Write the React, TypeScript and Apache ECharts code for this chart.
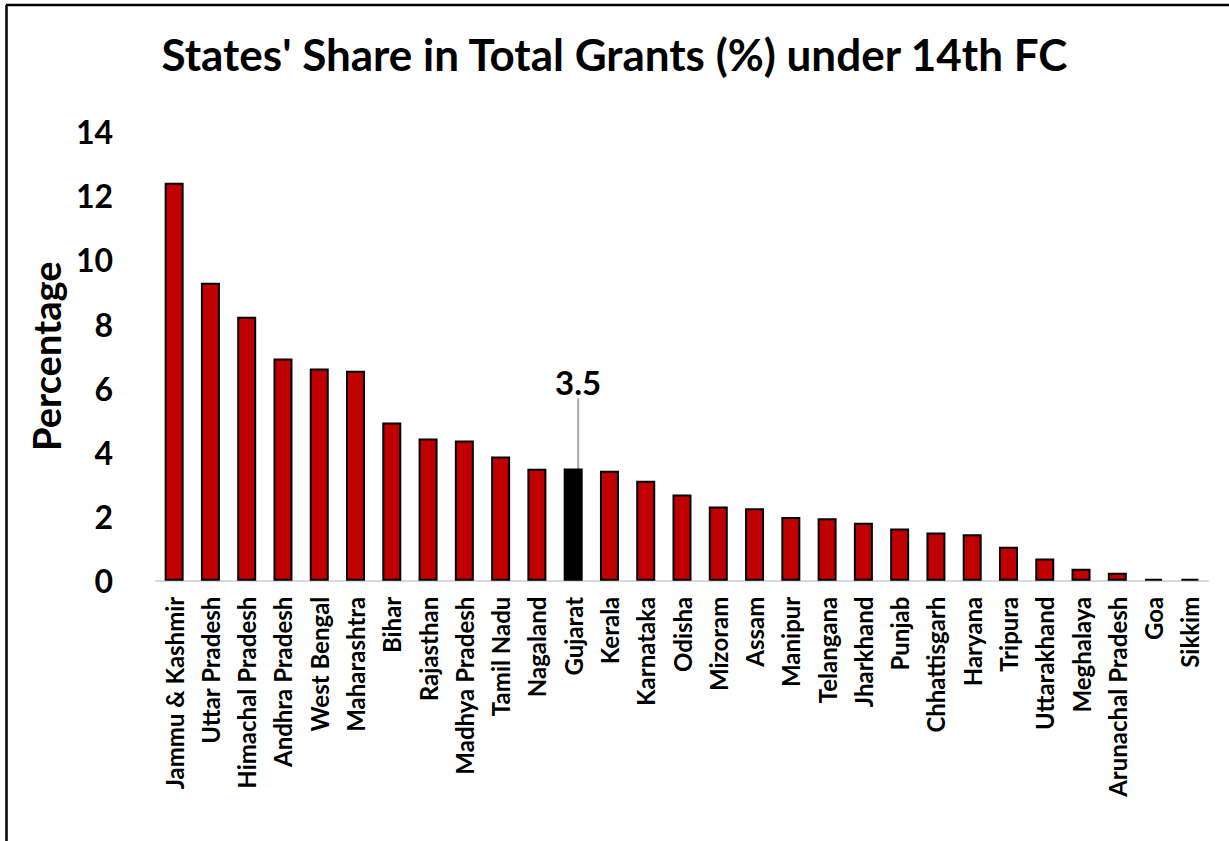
import React, { useEffect, useRef } from "react";
import * as echarts from "echarts";

const categories = [
  "Jammu & Kashmir", "Uttar Pradesh", "Himachal Pradesh", "Andhra Pradesh", "West Bengal",
  "Maharashtra", "Bihar", "Rajasthan", "Madhya Pradesh", "Tamil Nadu", "Nagaland", "Gujarat",
  "Kerala", "Karnataka", "Odisha", "Mizoram", "Assam", "Manipur", "Telangana", "Jharkhand",
  "Punjab", "Chhattisgarh", "Haryana", "Tripura", "Uttarakhand", "Meghalaya",
  "Arunachal Pradesh", "Goa", "Sikkim",
];
const shares = [
  12.41, 9.29, 8.23, 6.93, 6.62, 6.55, 4.93, 4.43, 4.37, 3.87, 3.49, 3.5,
  3.43, 3.12, 2.69, 2.31, 2.26, 1.99, 1.95, 1.81, 1.63, 1.5, 1.45, 1.06,
  0.69, 0.37, 0.25, 0.06, 0.06,
];
const highlighted = "Gujarat";
const yTicks = { min: 0, max: 14, interval: 2 };
const titleText = "States' Share in Total Grants (%) under 14th FC";
const yAxisName = "Percentage";

const FONT = "Lato, 'Noto Sans', sans-serif";

export default function App() {
  const ref = useRef<HTMLDivElement>(null);
  useEffect(() => {
    if (!ref.current) return;
    const chart = echarts.init(ref.current, null, { renderer: "svg" });
    const data = shares.map((v, i) =>
      categories[i] === highlighted
        ? {
            value: v,
            itemStyle: { color: "#000000" },
            label: { show: true },
            labelLine: { show: true },
          }
        : v
    );
    chart.setOption({
      animation: false,
      backgroundColor: "#ffffff",
      textStyle: { fontFamily: FONT },
      title: {
        text: titleText,
        left: "center",
        top: 27,
        textStyle: { fontFamily: FONT, fontSize: 44, fontWeight: "bold", color: "#000" },
      },
      graphic: [
        { type: "line", shape: { x1: 6, y1: 5, x2: 1229, y2: 5 }, style: { stroke: "#000", lineWidth: 2.5 } },
        { type: "line", shape: { x1: 6.5, y1: 5, x2: 6.5, y2: 841 }, style: { stroke: "#000", lineWidth: 2.5 } },
      ],
      grid: { left: 156, right: 21, top: 131.7, bottom: 260.3, containLabel: false },
      xAxis: {
        type: "category",
        data: categories,
        axisLine: { show: true, lineStyle: { color: "#d9d9d9", width: 2 } },
        axisTick: { show: false },
        axisLabel: {
          rotate: 90,
          interval: 0,
          margin: 16,
          fontFamily: FONT,
          fontSize: 24,
          fontWeight: "bold",
          color: "#000",
        },
      },
      yAxis: {
        type: "value",
        min: yTicks.min,
        max: yTicks.max,
        interval: yTicks.interval,
        name: yAxisName,
        nameLocation: "middle",
        nameGap: 88,
        nameRotate: 90,
        nameTextStyle: { fontFamily: FONT, fontSize: 38, fontWeight: "bold", color: "#000" },
        axisLine: { show: false },
        axisTick: { show: false },
        splitLine: { show: false },
        axisLabel: { margin: 43, fontFamily: FONT, fontSize: 32, fontWeight: "bold", color: "#000" },
      },
      series: [
        {
          type: "bar",
          data,
          barWidth: 19,
          itemStyle: { color: "#C00000", borderColor: "#000", borderWidth: 2 },
          label: {
            show: false,
            position: "top",
            distance: 5,
            fontFamily: FONT,
            fontSize: 33,
            fontWeight: "bold",
            color: "#000",
          },
          labelLine: { show: false, lineStyle: { color: "#a6a6a6", width: 2 } },
          labelLayout: { dy: -65, dx: 5 },
        },
      ],
    });
    return () => chart.dispose();
  }, []);
  return (
    <div
      ref={ref}
      style={{ position: "fixed", left: 0, top: 0, width: 1229, height: 841 }}
    />
  );
}
